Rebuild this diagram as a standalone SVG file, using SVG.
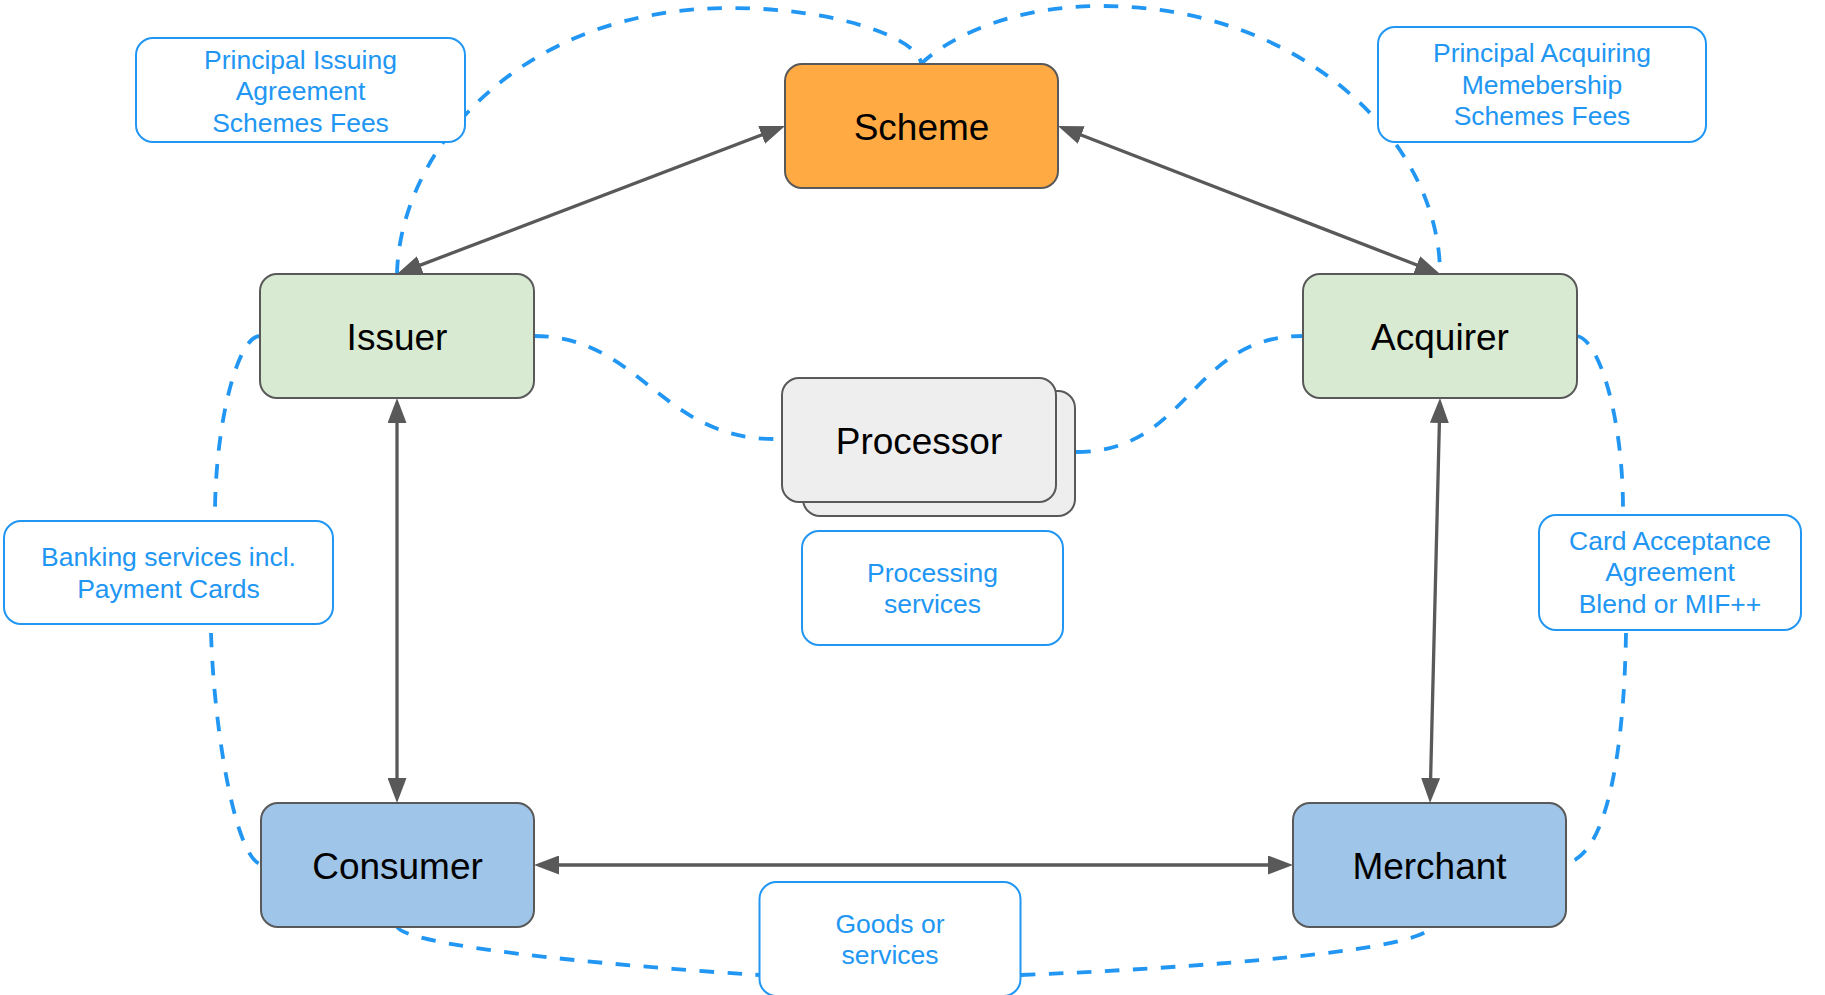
<svg xmlns="http://www.w3.org/2000/svg" width="1825" height="995" viewBox="0 0 1825 995">
  <style>
    .node { stroke: #595959; stroke-width: 2; }
    .node-text { font-family: "Liberation Sans", Arial, sans-serif; font-size: 37px; fill: #000000; text-anchor: middle; }
    .note { fill: #ffffff; stroke: #2196f3; stroke-width: 2; }
    .note-text { font-family: "Liberation Sans", Arial, sans-serif; font-size: 26.5px; fill: #2196f3; text-anchor: middle; }
    .flow { fill: none; stroke: #595959; stroke-width: 3.3; }
    .relation { fill: none; stroke: #2196f3; stroke-width: 3.8; stroke-dasharray: 14.5 13.5; }
  </style>
  <defs>
    <marker id="arrow" markerUnits="userSpaceOnUse" viewBox="0 0 25 19" markerWidth="25" markerHeight="19" refX="5" refY="9.5" orient="auto-start-reverse">
      <path d="M0,0 L25,9.5 L0,19 z" fill="#595959"/>
    </marker>
  </defs>
  <rect width="1825" height="995" fill="#ffffff"/>

  <g id="connectors">
    <!-- dashed relationship curves -->
    <path class="relation" d="M397,274 C400,150 520,8 730,8 C840,8 921,40 921,64"/>
    <path class="relation" d="M921,64 C940,45 1000,6 1102,6 C1300,6 1440,140 1440,274"/>
    <path class="relation" d="M534,336 C640,336 660,439 775,439"/>
    <path class="relation" d="M1076,452 C1190,452 1190,336 1303,336"/>
    <path class="relation" d="M260,336 C238,336 216,420 215,510"/>
    <path class="relation" d="M211,633 C214,730 235,855 260,864"/>
    <path class="relation" d="M1577,336 C1600,340 1623,420 1623,509"/>
    <path class="relation" d="M1626,633 C1624,760 1605,855 1567,863"/>
    <path class="relation" d="M397,926 C400,945 600,965 759,975"/>
    <path class="relation" d="M1021,975 C1200,968 1430,950 1430,926"/>
    <!-- solid two-way flows -->
    <path class="flow" d="M415.7,266.9 L766.3,133.1" marker-start="url(#arrow)" marker-end="url(#arrow)"/>
    <path class="flow" d="M1076.6,133.2 L1421.4,266.8" marker-start="url(#arrow)" marker-end="url(#arrow)"/>
    <path class="flow" d="M397,418 L397,783" marker-start="url(#arrow)" marker-end="url(#arrow)"/>
    <path class="flow" d="M1439.5,418 L1430.5,783" marker-start="url(#arrow)" marker-end="url(#arrow)"/>
    <path class="flow" d="M554,865 L1273,865" marker-start="url(#arrow)" marker-end="url(#arrow)"/>
  </g>

  <g id="scheme">
    <rect class="node" x="785" y="64" width="273" height="124" rx="17" fill="#ffaa42"/>
    <text class="node-text" x="921.5" y="139.5">Scheme</text>
  </g>
  <g id="issuer">
    <rect class="node" x="260" y="274" width="274" height="124" rx="17" fill="#d9ead3"/>
    <text class="node-text" x="397" y="349.5">Issuer</text>
  </g>
  <g id="acquirer">
    <rect class="node" x="1303" y="274" width="274" height="124" rx="17" fill="#d9ead3"/>
    <text class="node-text" x="1440" y="349.5">Acquirer</text>
  </g>
  <g id="processor">
    <rect class="node" x="803" y="391" width="272" height="125" rx="17" fill="#eeeeee"/>
    <rect class="node" x="782" y="378" width="274" height="124" rx="17" fill="#eeeeee"/>
    <text class="node-text" x="919" y="453.5">Processor</text>
  </g>
  <g id="consumer">
    <rect class="node" x="261" y="803" width="273" height="124" rx="17" fill="#9fc5e8"/>
    <text class="node-text" x="397.5" y="878.5">Consumer</text>
  </g>
  <g id="merchant">
    <rect class="node" x="1293" y="803" width="273" height="124" rx="17" fill="#9fc5e8"/>
    <text class="node-text" x="1429.5" y="878.5">Merchant</text>
  </g>

  <g id="note-issuing">
    <rect class="note" x="136" y="38" width="329" height="104" rx="17"/>
    <text class="note-text" x="300.5" y="68.5">Principal Issuing</text>
    <text class="note-text" x="300.5" y="100">Agreement</text>
    <text class="note-text" x="300.5" y="131.5">Schemes Fees</text>
  </g>
  <g id="note-acquiring">
    <rect class="note" x="1378" y="27" width="328" height="115" rx="17"/>
    <text class="note-text" x="1542" y="62">Principal Acquiring</text>
    <text class="note-text" x="1542" y="93.5">Memebership</text>
    <text class="note-text" x="1542" y="125">Schemes Fees</text>
  </g>
  <g id="note-banking">
    <rect class="note" x="4" y="521" width="329" height="103" rx="17"/>
    <text class="note-text" x="168.5" y="566">Banking services incl.</text>
    <text class="note-text" x="168.5" y="597.5">Payment Cards</text>
  </g>
  <g id="note-processing">
    <rect class="note" x="802" y="531" width="261" height="114" rx="17"/>
    <text class="note-text" x="932.5" y="581.7">Processing</text>
    <text class="note-text" x="932.5" y="613.2">services</text>
  </g>
  <g id="note-acceptance">
    <rect class="note" x="1539" y="515" width="262" height="115" rx="17"/>
    <text class="note-text" x="1670" y="549.5">Card Acceptance</text>
    <text class="note-text" x="1670" y="581">Agreement</text>
    <text class="note-text" x="1670" y="612.5">Blend or MIF++</text>
  </g>
  <g id="note-goods">
    <rect class="note" x="759.5" y="882" width="261" height="114" rx="17"/>
    <text class="note-text" x="890" y="932.5">Goods or</text>
    <text class="note-text" x="890" y="964">services</text>
  </g>
</svg>
